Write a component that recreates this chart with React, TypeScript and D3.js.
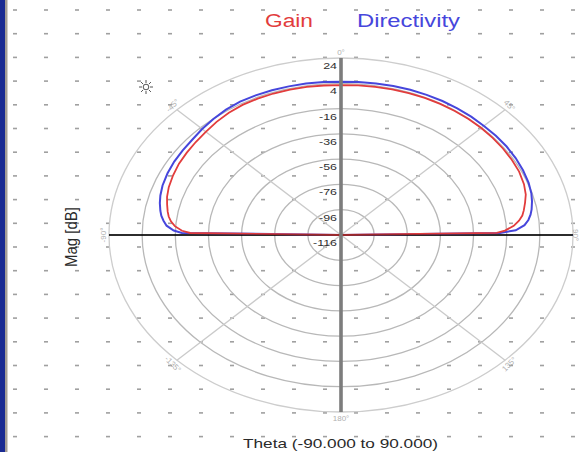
import React from "react";
import * as d3 from "d3";

const W = 580;
const H = 452;

// Theta (deg) sample positions
const thetaDeg = [-90, -89, -88, -86, -84, -82, -80, -77, -74, -70, -65, -60, -55, -50, -45, -40, -35, -30, -25, -20, -15, -10, -5, 0, 5, 10, 15, 20, 25, 30, 35, 40, 45, 50, 55, 60, 65, 70, 74, 77, 80, 82, 84, 86, 88, 89, 90];

// Directivity (dB)
const directivity = [-116, -20, -15, -10.5, -8.3, -6.5, -5.3, -3.8, -2.6, -1.4, -0.5, 0.2, 0.6, 1.2, 2.5, 3.8, 5.0, 5.8, 5.9, 5.9, 5.7, 5.6, 5.4, 5.3, 5.4, 5.7, 6.0, 6.2, 6.3, 6.4, 6.3, 6.2, 6.0, 6.0, 6.0, 5.7, 5.2, 4.5, 3.5, 2.3, 0.8, -0.5, -2.3, -5, -10.5, -20, -116];

// Gain (dB)
const gain = [-116, -25, -20, -15.5, -12.8, -11, -9.8, -8.3, -6.8, -5.4, -4.2, -3.1, -2.4, -1.6, -0.6, 0.8, 2.0, 2.8, 3.0, 3.1, 3.0, 2.9, 2.7, 2.6, 2.8, 3.0, 3.2, 3.4, 3.6, 3.7, 3.7, 3.7, 3.7, 3.5, 3.3, 3.0, 2.6, 1.5, 0, -2, -4, -5.5, -8, -11.5, -17, -22, -116];

// Radial ticks (dB)
const ringTicks = [24, 4, -16, -36, -56, -76, -96, -116];
// Angular labels
const angleLabels = [
  { a: 0, t: "0°" },
  { a: 45, t: "45°" },
  { a: 90, t: "90°" },
  { a: 135, t: "135°" },
  { a: 180, t: "180°" },
  { a: -135, t: "-135°" },
  { a: -90, t: "-90°" },
  { a: -45, t: "-45°" },
];
const spokeAngles = [45, 135, -45, -135];

const legendItems = [
  { name: "Gain", color: "#e23c3c", x: 265, len: 48 },
  { name: "Directivity", color: "#4646dc", x: 357, len: 103 },
];

const cx = 341;
const cy = 235;
const rx = 232;
const ry = 177;
const SX = 1.31;

export default function App() {
  const r = d3.scaleLinear().domain([-116, 24]).range([0, 1]).clamp(true);
  const px = (deg: number, v: number) => cx + rx * r(v) * Math.sin((deg * Math.PI) / 180);
  const py = (deg: number, v: number) => cy - ry * r(v) * Math.cos((deg * Math.PI) / 180);

  const line = d3
    .line<[number, number]>()
    .x((d) => px(d[0], d[1]))
    .y((d) => py(d[0], d[1]));

  const dirPath = line(thetaDeg.map((t, i) => [t, directivity[i]]) as [number, number][]) || "";
  const gainPath = line(thetaDeg.map((t, i) => [t, gain[i]]) as [number, number][]) || "";

  const dashXs = d3.range(19).map((i) => 15 + i * 31);
  const dashYs = d3.range(19).map((i) => 10 + i * 23.7);

  const font = "'Liberation Sans', Arial, sans-serif";

  return (
    <svg width={W} height={H} style={{ position: "fixed", left: 0, top: 0, background: "#fff" }}>
      <rect x={0} y={0} width={W} height={H} fill="#fff" />
      {/* dotted background */}
      {dashYs.map((y) =>
        dashXs.map((x) => (
          <rect key={`${x}-${y}`} x={x - 2} y={y - 0.8} width={4} height={1.6} fill="#a0a0a0" />
        ))
      )}
      {/* rings */}
      {ringTicks.slice(0, 7).map((v) => (
        <ellipse
          key={v}
          cx={cx}
          cy={cy}
          rx={rx * r(v)}
          ry={ry * r(v)}
          fill="none"
          stroke={v === 24 ? "#cdcdcd" : "#b8b8b8"}
          strokeWidth={1.3}
        />
      ))}
      {/* spokes */}
      {spokeAngles.map((a) => (
        <line key={a} x1={cx} y1={cy} x2={px(a, 24)} y2={py(a, 24)} stroke="#cacaca" strokeWidth={1.3} />
      ))}
      {/* horizontal axis */}
      <line x1={cx - rx} y1={cy} x2={cx + rx} y2={cy} stroke="#000" strokeWidth={1.5} />
      {/* curves */}
      <path d={dirPath} fill="none" stroke={legendItems[1].color} strokeWidth={2} />
      <path d={gainPath} fill="none" stroke={legendItems[0].color} strokeWidth={1.8} />
      <line x1={cx - rx} y1={cy} x2={cx + rx} y2={cy} stroke="#000" strokeWidth={1.5} opacity={0.4} />
      {/* vertical axis */}
      <line x1={cx} y1={cy - ry} x2={cx} y2={cy + ry} stroke="#7c7c7c" strokeWidth={3.6} />
      {/* ring labels */}
      {ringTicks.map((v) => (
        <text
          key={v}
          transform={`translate(337,${cy - ry * r(v) + 11}) scale(${SX},1)`}
          textAnchor="end"
          fontFamily={font}
          fontSize={9.5}
          fill="#303030"
        >
          {v}
        </text>
      ))}
      {/* angle labels */}
      {angleLabels.map(({ a, t }) => {
        const rad = (a * Math.PI) / 180;
        let x = cx + (rx + 6) * Math.sin(rad);
        const y = cy - (ry + 6) * Math.cos(rad);
        if (a === 90) x = 575;
        let rot = a;
        if (Math.abs(a) === 180) rot = 0;
        if (a === 135) rot = -45;
        if (a === -135) rot = 45;
        return (
          <text
            key={t}
            transform={`translate(${x},${y}) rotate(${rot})`}
            textAnchor="middle"
            dominantBaseline="central"
            fontFamily={font}
            fontSize={8}
            fill="#b0b0b0"
          >
            {t}
          </text>
        );
      })}
      {/* legend */}
      {legendItems.map((l) => (
        <text
          key={l.name}
          x={l.x}
          y={26.5}
          fontFamily={font}
          fontSize={18}
          fill={l.color}
          textLength={l.len}
          lengthAdjust="spacingAndGlyphs"
        >
          {l.name}
        </text>
      ))}
      {/* axis titles */}
      <text
        x={243}
        y={448}
        fontFamily={font}
        fontSize={13.5}
        fill="#2a2a2a"
        textLength={195}
        lengthAdjust="spacingAndGlyphs"
      >
        Theta (-90.000 to 90.000)
      </text>
      <text
        transform={`translate(77,237) rotate(-90) scale(1,${SX})`}
        textAnchor="middle"
        fontFamily={font}
        fontSize={12.5}
        fill="#2a2a2a"
        textLength={60}
        lengthAdjust="spacingAndGlyphs"
      >
        Mag [dB]
      </text>
      {/* sun icon */}
      <g transform="translate(146,87)" stroke="#555" strokeWidth={1}>
        <circle r={2.8} fill="#fff" />
        {d3.range(8).map((i) => {
          const a = (i * Math.PI) / 4;
          return (
            <line key={i} x1={4 * Math.cos(a)} y1={4 * Math.sin(a)} x2={7 * Math.cos(a)} y2={7 * Math.sin(a)} />
          );
        })}
      </g>
      {/* left border */}
      <rect x={0} y={0} width={5} height={H} fill="#1a2a92" />
      <rect x={5} y={0} width={2.5} height={H} fill="#a59d95" />
    </svg>
  );
}
